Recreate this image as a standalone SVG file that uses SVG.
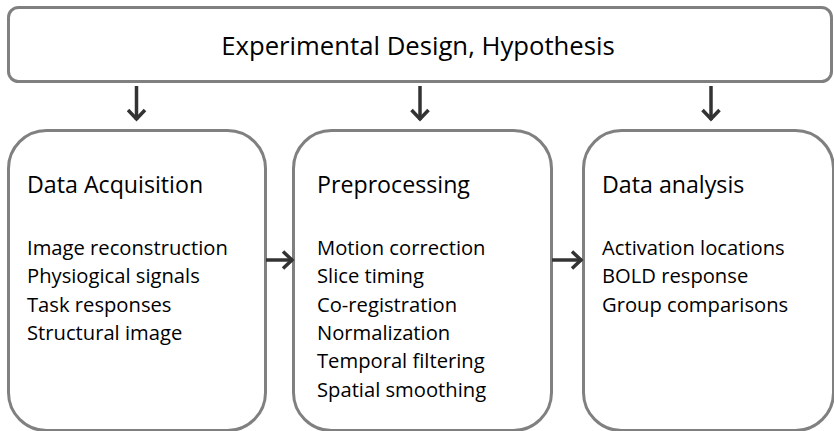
<svg xmlns="http://www.w3.org/2000/svg" width="834" height="431" viewBox="0 0 834 431">
<style>
.box{fill:#fff;stroke:#808080;stroke-width:3}
.t{font-family:"Open Sans","Liberation Sans",sans-serif;fill:#000}
.h{font-size:23.2px}
.i{font-size:20.2px}
.c{stroke:#333;stroke-width:3.5;fill:none}
</style>
<defs>
<marker id="ah" viewBox="0 0 16 20" refX="14" refY="10" markerWidth="16" markerHeight="20" orient="auto" markerUnits="userSpaceOnUse">
<path d="M4,1.5 L13,10 L4,18.5" fill="none" stroke="#333" stroke-width="3.5"/>
</marker>
</defs>
<rect width="834" height="431" fill="#fff"/>
<g id="design">
<rect class="box" x="8.5" y="7.5" width="823" height="74" rx="10"/>
<text class="t" x="418" y="55" font-size="25.7" text-anchor="middle">Experimental Design, Hypothesis</text>
</g>
<g id="acq">
<rect class="box" x="8.5" y="130.5" width="257" height="300" rx="38"/>
<text class="t h" x="27" y="193">Data Acquisition</text>
<text class="t i" x="27" y="255">Image reconstruction</text>
<text class="t i" x="27" y="283">Physiogical signals</text>
<text class="t i" x="27" y="312">Task responses</text>
<text class="t i" x="27" y="340">Structural image</text>
</g>
<g id="pre">
<rect class="box" x="293.5" y="130.5" width="258" height="300" rx="38"/>
<text class="t h" x="317" y="193">Preprocessing</text>
<text class="t i" x="317" y="255">Motion correction</text>
<text class="t i" x="317" y="283">Slice timing</text>
<text class="t i" x="317" y="312">Co-registration</text>
<text class="t i" x="317" y="340">Normalization</text>
<text class="t i" x="317" y="368">Temporal filtering</text>
<text class="t i" x="317" y="397">Spatial smoothing</text>
</g>
<g id="ana">
<rect class="box" x="583.5" y="130.5" width="250" height="300" rx="38"/>
<text class="t h" x="602" y="193">Data analysis</text>
<text class="t i" x="602" y="255">Activation locations</text>
<text class="t i" x="602" y="283">BOLD response</text>
<text class="t i" x="602" y="312">Group comparisons</text>
</g>
<g id="connectors">
<line class="c" x1="136.5" y1="86" x2="136.5" y2="120" marker-end="url(#ah)"/>
<line class="c" x1="420" y1="86" x2="420" y2="120" marker-end="url(#ah)"/>
<line class="c" x1="711" y1="86" x2="711" y2="120" marker-end="url(#ah)"/>
<line class="c" x1="266" y1="260" x2="293" y2="260" marker-end="url(#ah)"/>
<line class="c" x1="552" y1="260" x2="582" y2="260" marker-end="url(#ah)"/>
</g>
</svg>
